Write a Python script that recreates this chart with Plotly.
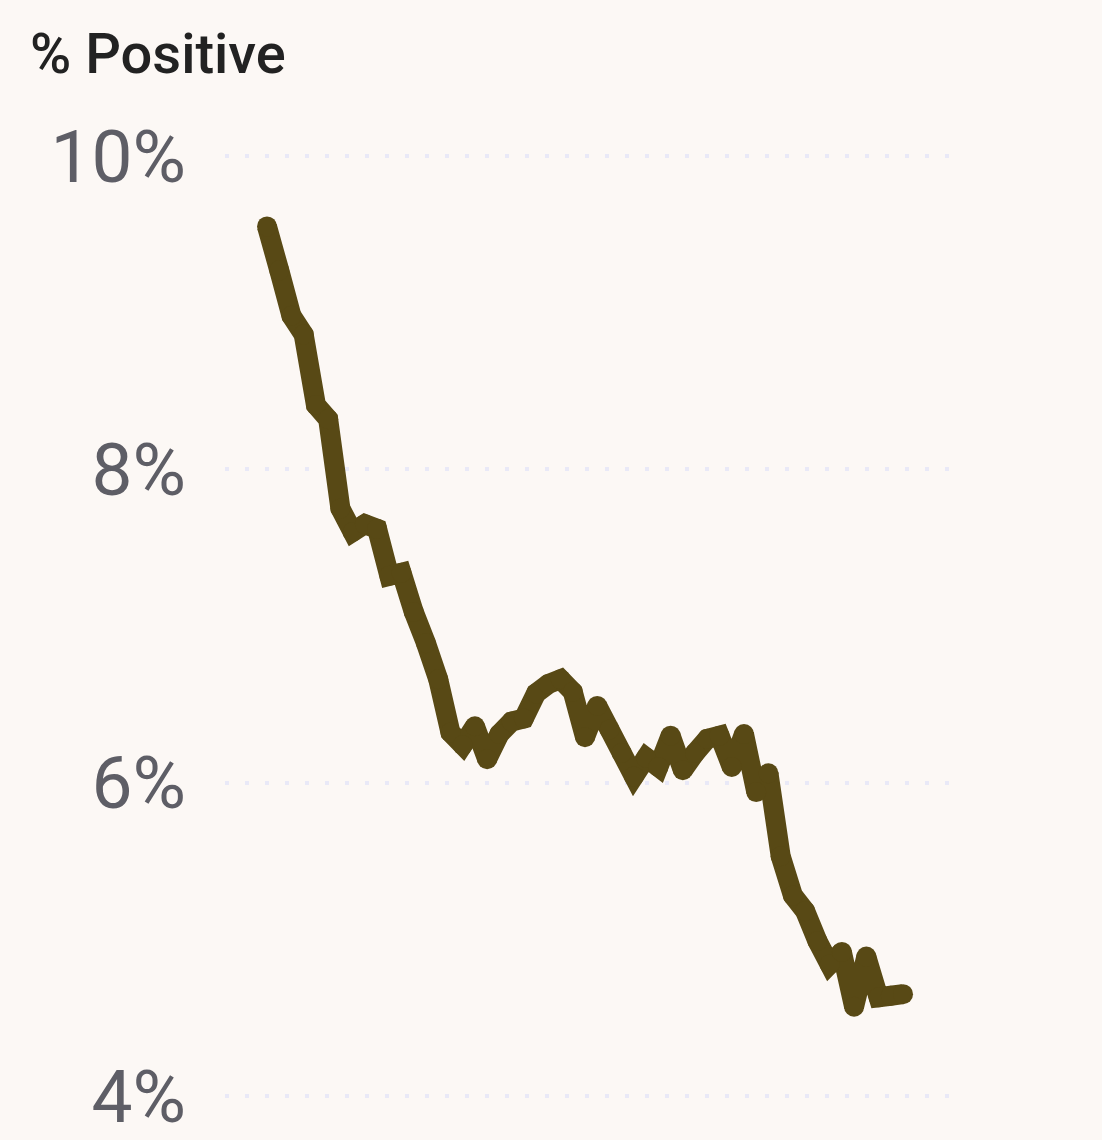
import plotly.graph_objects as go

# ===== DATA: weekly % positive =====
weeks = list(range(53))
pct_positive = [
    9.55, 9.27, 8.98, 8.86, 8.41, 8.32, 7.75, 7.60, 7.65, 7.62,
    7.32, 7.34, 7.09, 6.89, 6.66, 6.32, 6.24, 6.36, 6.15, 6.31,
    6.39, 6.41, 6.57, 6.63, 6.66, 6.58, 6.29, 6.49, 6.34, 6.19,
    6.04, 6.16, 6.10, 6.30, 6.08, 6.19, 6.28, 6.30, 6.10, 6.31,
    5.94, 6.06, 5.53, 5.28, 5.18, 4.99, 4.84, 4.92, 4.57, 4.89,
    4.63, 4.64, 4.65,
]
y_ticks = [4, 6, 8, 10]
y_tick_labels = ["4%", "6%", "8%", "10%"]

LINE_COLOR = "#584915"
BG = "#fcf8f5"

fig = go.Figure()
# markers same size as the line width give round caps and joins
fig.add_trace(go.Scatter(
    x=weeks, y=pct_positive, mode="lines+markers",
    line=dict(color=LINE_COLOR, width=20, simplify=False),
    marker=dict(color=LINE_COLOR, size=20, line=dict(width=0)),
    hoverinfo="skip", showlegend=False,
))

fig.update_layout(
    width=1102, height=1140,
    paper_bgcolor=BG, plot_bgcolor=BG,
    margin=dict(l=225, r=153, t=100, b=20, autoexpand=False),
    title=dict(
        text="% Positive", x=30 / 1102, xanchor="left", xref="container",
        y=1 - 53 / 1140, yanchor="middle", yref="container",
        font=dict(family="Roboto", size=56, color="#222222", weight=500),
    ),
)
fig.update_xaxes(
    range=[-3.434, 55.76], visible=False, showgrid=False, zeroline=False,
)
fig.update_yaxes(
    range=[3.847, 10.357], tickvals=y_ticks, ticktext=y_tick_labels,
    tickfont=dict(family="Roboto", size=73, color="#5e5e66"),
    ticks="", ticklabelstandoff=38, automargin=False,
    showgrid=True, gridcolor="#e9e9f7", gridwidth=4, griddash="4px,16px",
    zeroline=False, showline=False,
)

# drop the page's default body margin so the chart fills the window
fig.write_html(
    "out.html",
    config={"displayModeBar": False},
    post_script="document.body.style.margin='0';",
)
